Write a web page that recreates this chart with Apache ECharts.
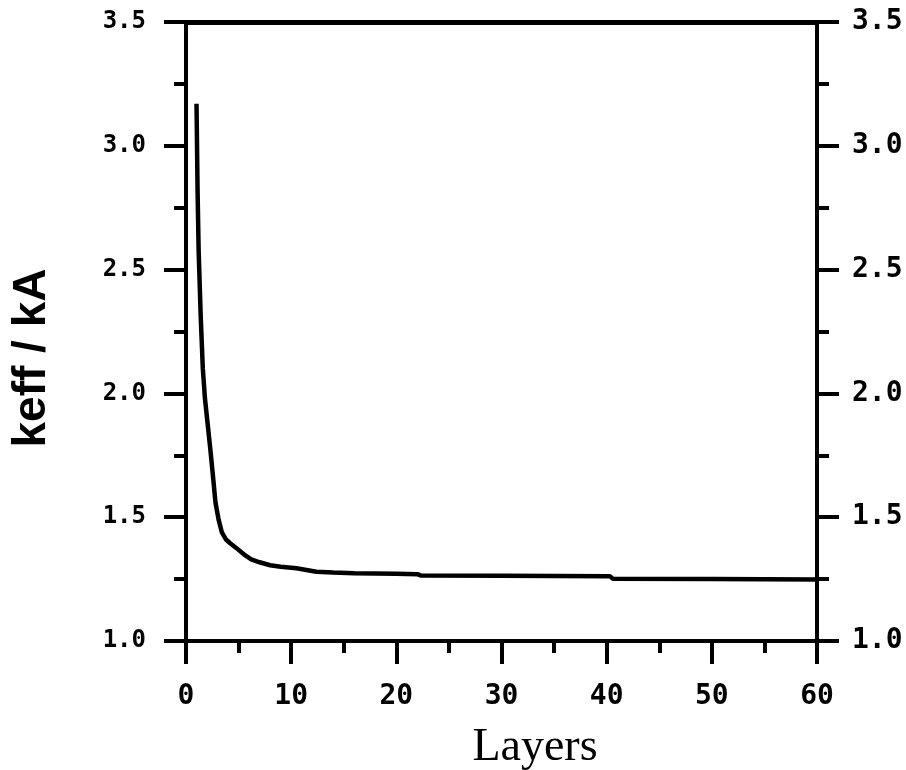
<!DOCTYPE html>
<html>
<head>
<meta charset="utf-8">
<script src="https://cdn.jsdelivr.net/npm/echarts@6/dist/echarts.min.js"></script>
<style>html,body{margin:0;padding:0;background:#fff;}#c{width:906px;height:770px;}</style>
</head>
<body>
<div id="c"></div>
<script>
var layers = [1, 1.1, 1.2, 1.4, 1.6, 1.8, 2.1, 2.3, 2.6, 2.8, 3.1, 3.4, 3.8, 4.2, 4.8, 5.5, 6.2, 7, 8, 9, 10.5, 12.4, 14, 16, 20, 22, 22.3, 30, 40.3, 40.6, 50, 60];
var ratio = [3.17, 2.82, 2.58, 2.31, 2.10, 1.98, 1.86, 1.78, 1.65, 1.56, 1.49, 1.44, 1.41, 1.395, 1.375, 1.35, 1.33, 1.318, 1.306, 1.30, 1.294, 1.28, 1.277, 1.274, 1.272, 1.27, 1.265, 1.264, 1.262, 1.251, 1.25, 1.248];
var xTicks = {min: 0, max: 60, interval: 10};
var yTicks = {min: 1.0, max: 3.5, interval: 0.5};
var xName = 'Layers';
var yName = 'keff / kA';

var data = layers.map(function (l, i) { return [l, ratio[i]]; });
var chart = echarts.init(document.getElementById('c'));
var lineCol = '#000';
var tickFont = 'DejaVu Sans Mono';
function yAxisCfg(pos, fs, margin) {
  return {
    type: 'value', position: pos, min: yTicks.min, max: yTicks.max, interval: yTicks.interval,
    axisLine: {show: true, onZero: false, lineStyle: {color: lineCol, width: 4}},
    axisTick: {show: true, inside: false, length: 22, lineStyle: {color: lineCol, width: 4}},
    minorTick: {show: true, splitNumber: 2, length: 12, lineStyle: {color: lineCol, width: 4}},
    splitLine: {show: false}, minorSplitLine: {show: false},
    axisLabel: {show: true, margin: margin, color: '#000', fontFamily: tickFont, fontWeight: 'bold', fontSize: fs,
      formatter: function (v) { return v.toFixed(1); }}
  };
}
chart.setOption({
  animation: false,
  backgroundColor: '#fff',
  grid: {left: 186, right: 89, top: 22, bottom: 129},
  xAxis: [{
    type: 'value', position: 'bottom', min: xTicks.min, max: xTicks.max, interval: xTicks.interval,
    axisLine: {show: true, onZero: false, lineStyle: {color: lineCol, width: 4}},
    axisTick: {show: true, inside: false, length: 23, lineStyle: {color: lineCol, width: 4}},
    minorTick: {show: true, splitNumber: 2, length: 12, lineStyle: {color: lineCol, width: 4}},
    splitLine: {show: false},
    axisLabel: {margin: 42, color: '#000', fontFamily: tickFont, fontWeight: 'bold', fontSize: 28}
  }, {
    type: 'value', position: 'top', min: xTicks.min, max: xTicks.max, interval: xTicks.interval,
    axisLine: {show: true, onZero: false, lineStyle: {color: lineCol, width: 5}},
    axisTick: {show: false}, axisLabel: {show: false}, splitLine: {show: false}
  }],
  yAxis: [yAxisCfg('left', 24, 40), yAxisCfg('right', 28, 35)],
  graphic: [{
    type: 'text', x: 535, y: 748,
    style: {text: xName, font: '46px "Liberation Serif"', fill: '#000', align: 'center', verticalAlign: 'middle'}
  }, {
    type: 'text', x: 32, y: 358, rotation: Math.PI / 2,
    style: {text: yName, font: 'bold 46px "Liberation Sans"', fill: '#000', align: 'center', verticalAlign: 'middle'}
  }],
  series: [{
    type: 'line', xAxisIndex: 0, yAxisIndex: 0, data: data, showSymbol: false, smooth: false,
    lineStyle: {color: '#000', width: 4.5}
  }]
});
</script>
</body>
</html>
